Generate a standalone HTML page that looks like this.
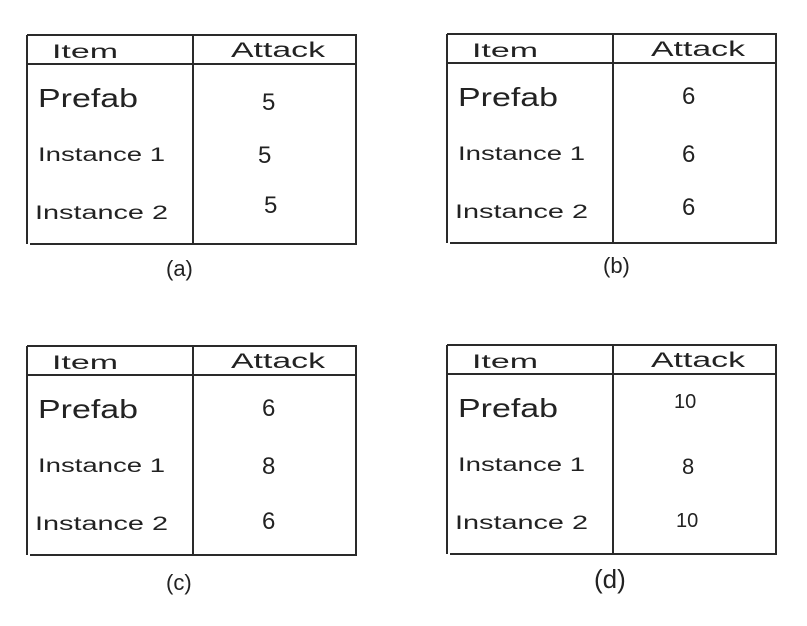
<!DOCTYPE html>
<html><head><style>html,body{margin:0;padding:0;background:#fff;}svg{display:block}</style></head><body>
<svg width="807" height="626" viewBox="0 0 807 626" xmlns="http://www.w3.org/2000/svg" font-family="Liberation Sans, sans-serif" fill="#222">
<defs>
<g id="grid" stroke="#2a2a2a" stroke-width="2" fill="none">
<line x1="27" y1="35" x2="357" y2="35"/>
<line x1="27" y1="64" x2="357" y2="64"/>
<line x1="27" y1="35" x2="27" y2="244"/>
<line x1="193" y1="35" x2="193" y2="245"/>
<line x1="356" y1="35" x2="356" y2="244"/>
<line x1="30" y1="244" x2="357" y2="244"/>
</g>
<g id="labels">
<text x="52" y="58" font-size="19" textLength="66" lengthAdjust="spacingAndGlyphs">Item</text>
<text x="231" y="57" font-size="21" textLength="94" lengthAdjust="spacingAndGlyphs">Attack</text>
<text x="38" y="107" font-size="26" textLength="100" lengthAdjust="spacingAndGlyphs">Prefab</text>
<text x="38" y="161" font-size="19" textLength="127" lengthAdjust="spacingAndGlyphs">Instance 1</text>
<text x="35" y="219" font-size="19" textLength="133" lengthAdjust="spacingAndGlyphs">Instance 2</text>
</g>
</defs>
<g><use href="#grid"/><use href="#labels"/>
<text x="262" y="110" font-size="24">5</text><text x="258" y="163" font-size="24">5</text><text x="264" y="213" font-size="24">5</text>
<text x="166" y="276" font-size="22">(a)</text></g>
<g transform="translate(420,-1)"><use href="#grid"/><use href="#labels"/>
<text x="262" y="105" font-size="24">6</text><text x="262" y="163" font-size="24">6</text><text x="262" y="216" font-size="24">6</text>
<text x="183" y="274" font-size="22">(b)</text></g>
<g transform="translate(0,311)"><use href="#grid"/><use href="#labels"/>
<text x="262" y="105" font-size="24">6</text><text x="262" y="163" font-size="24">8</text><text x="262" y="218" font-size="24">6</text>
<text x="166" y="279" font-size="22">(c)</text></g>
<g transform="translate(420,310)"><use href="#grid"/><use href="#labels"/>
<text x="254" y="98" font-size="20">10</text><text x="262" y="164" font-size="22">8</text><text x="256" y="217" font-size="20">10</text>
<text x="174" y="278" font-size="26">(d)</text></g>
</svg>
</body></html>
